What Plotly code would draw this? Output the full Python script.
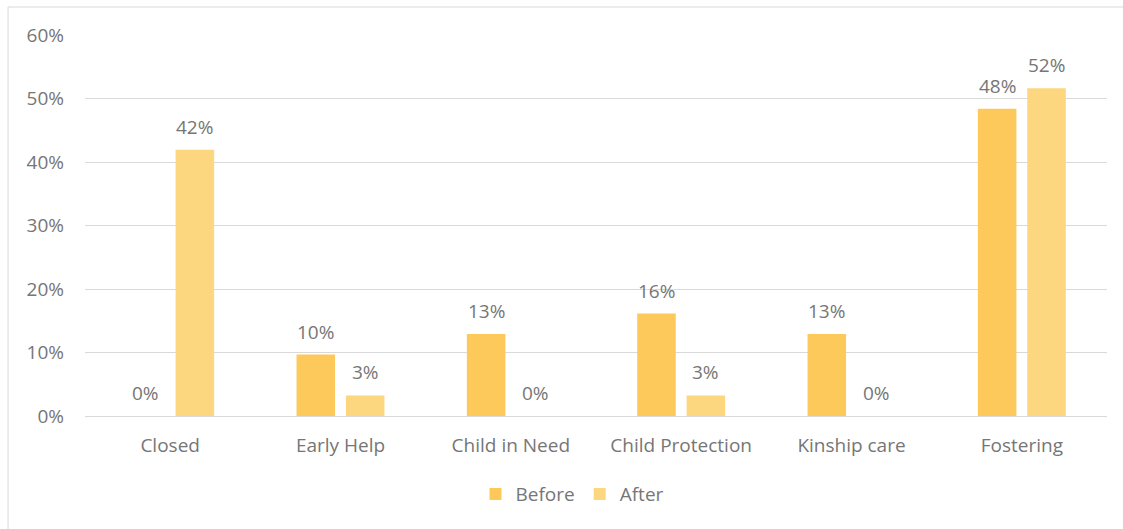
import plotly.graph_objects as go

# Share of cases by outcome, before and after
categories = ["Closed", "Early Help", "Child in Need", "Child Protection", "Kinship care", "Fostering"]
before = [0.0, 0.0968, 0.1290, 0.1613, 0.1290, 0.4839]
after = [0.4194, 0.0323, 0.0, 0.0323, 0.0, 0.5161]
y_ticks = [0, 0.1, 0.2, 0.3, 0.4, 0.5, 0.6]
y_tick_text = ["0%", "10%", "20%", "30%", "40%", "50%", "60%"]

TEXT = "#767676"
FONT = "Open Sans"
FS = 19
BARGAP = 0.42

series = [("Before", before, "#FDC95A"), ("After", after, "#FDD680")]
x_idx = list(range(len(categories)))

fig = go.Figure()
for name, vals, color in series:
    fig.add_trace(go.Bar(
        x=x_idx, y=vals, name=name,
        marker=dict(color=color, line=dict(width=0)),
    ))

# Value labels above each bar, centred on the bar within its group
half = (1 - BARGAP) / 4
annotations = []
for k, (name, vals, color) in enumerate(series):
    off = -half if k == 0 else half
    for i, v in enumerate(vals):
        annotations.append(dict(
            x=i + off, y=v, xref="x", yref="y",
            text=f"{v:.0%}", showarrow=False,
            yanchor="bottom", yshift=8,
            font=dict(size=FS, color=TEXT, family=FONT),
        ))

fig.update_layout(
    width=1123, height=529,
    margin=dict(l=85, r=16, t=35, b=113),
    paper_bgcolor="white", plot_bgcolor="white",
    barmode="group", bargap=BARGAP, bargroupgap=0.22,
    font=dict(family=FONT, color=TEXT, size=FS),
    showlegend=True,
    legend=dict(orientation="h", x=0.477, xanchor="center", y=-0.205, yanchor="middle",
                font=dict(size=FS, color=TEXT), itemwidth=30, traceorder="normal"),
    xaxis=dict(range=[-0.5, len(categories) - 0.5], tickvals=x_idx, ticktext=categories,
               showgrid=False, showline=False, zeroline=False, ticks="",
               tickfont=dict(size=FS, color=TEXT), ticklabelstandoff=16),
    yaxis=dict(range=[0, 0.6], tickvals=y_ticks, ticktext=y_tick_text,
               showgrid=True, gridcolor="#D9D9D9", gridwidth=1,
               zeroline=True, zerolinecolor="#D9D9D9", zerolinewidth=1,
               showline=False, ticks="", tickfont=dict(size=FS, color=TEXT),
               ticklabelstandoff=20),
    annotations=annotations,
    shapes=[dict(type="rect", xref="paper", yref="paper",
                 x0=-0.0753, x1=1.2, y0=-0.6, y1=1.0735,
                 line=dict(color="#D9D9D9", width=1), fillcolor="rgba(0,0,0,0)", layer="below")],
)

fig.write_html("out.html")
